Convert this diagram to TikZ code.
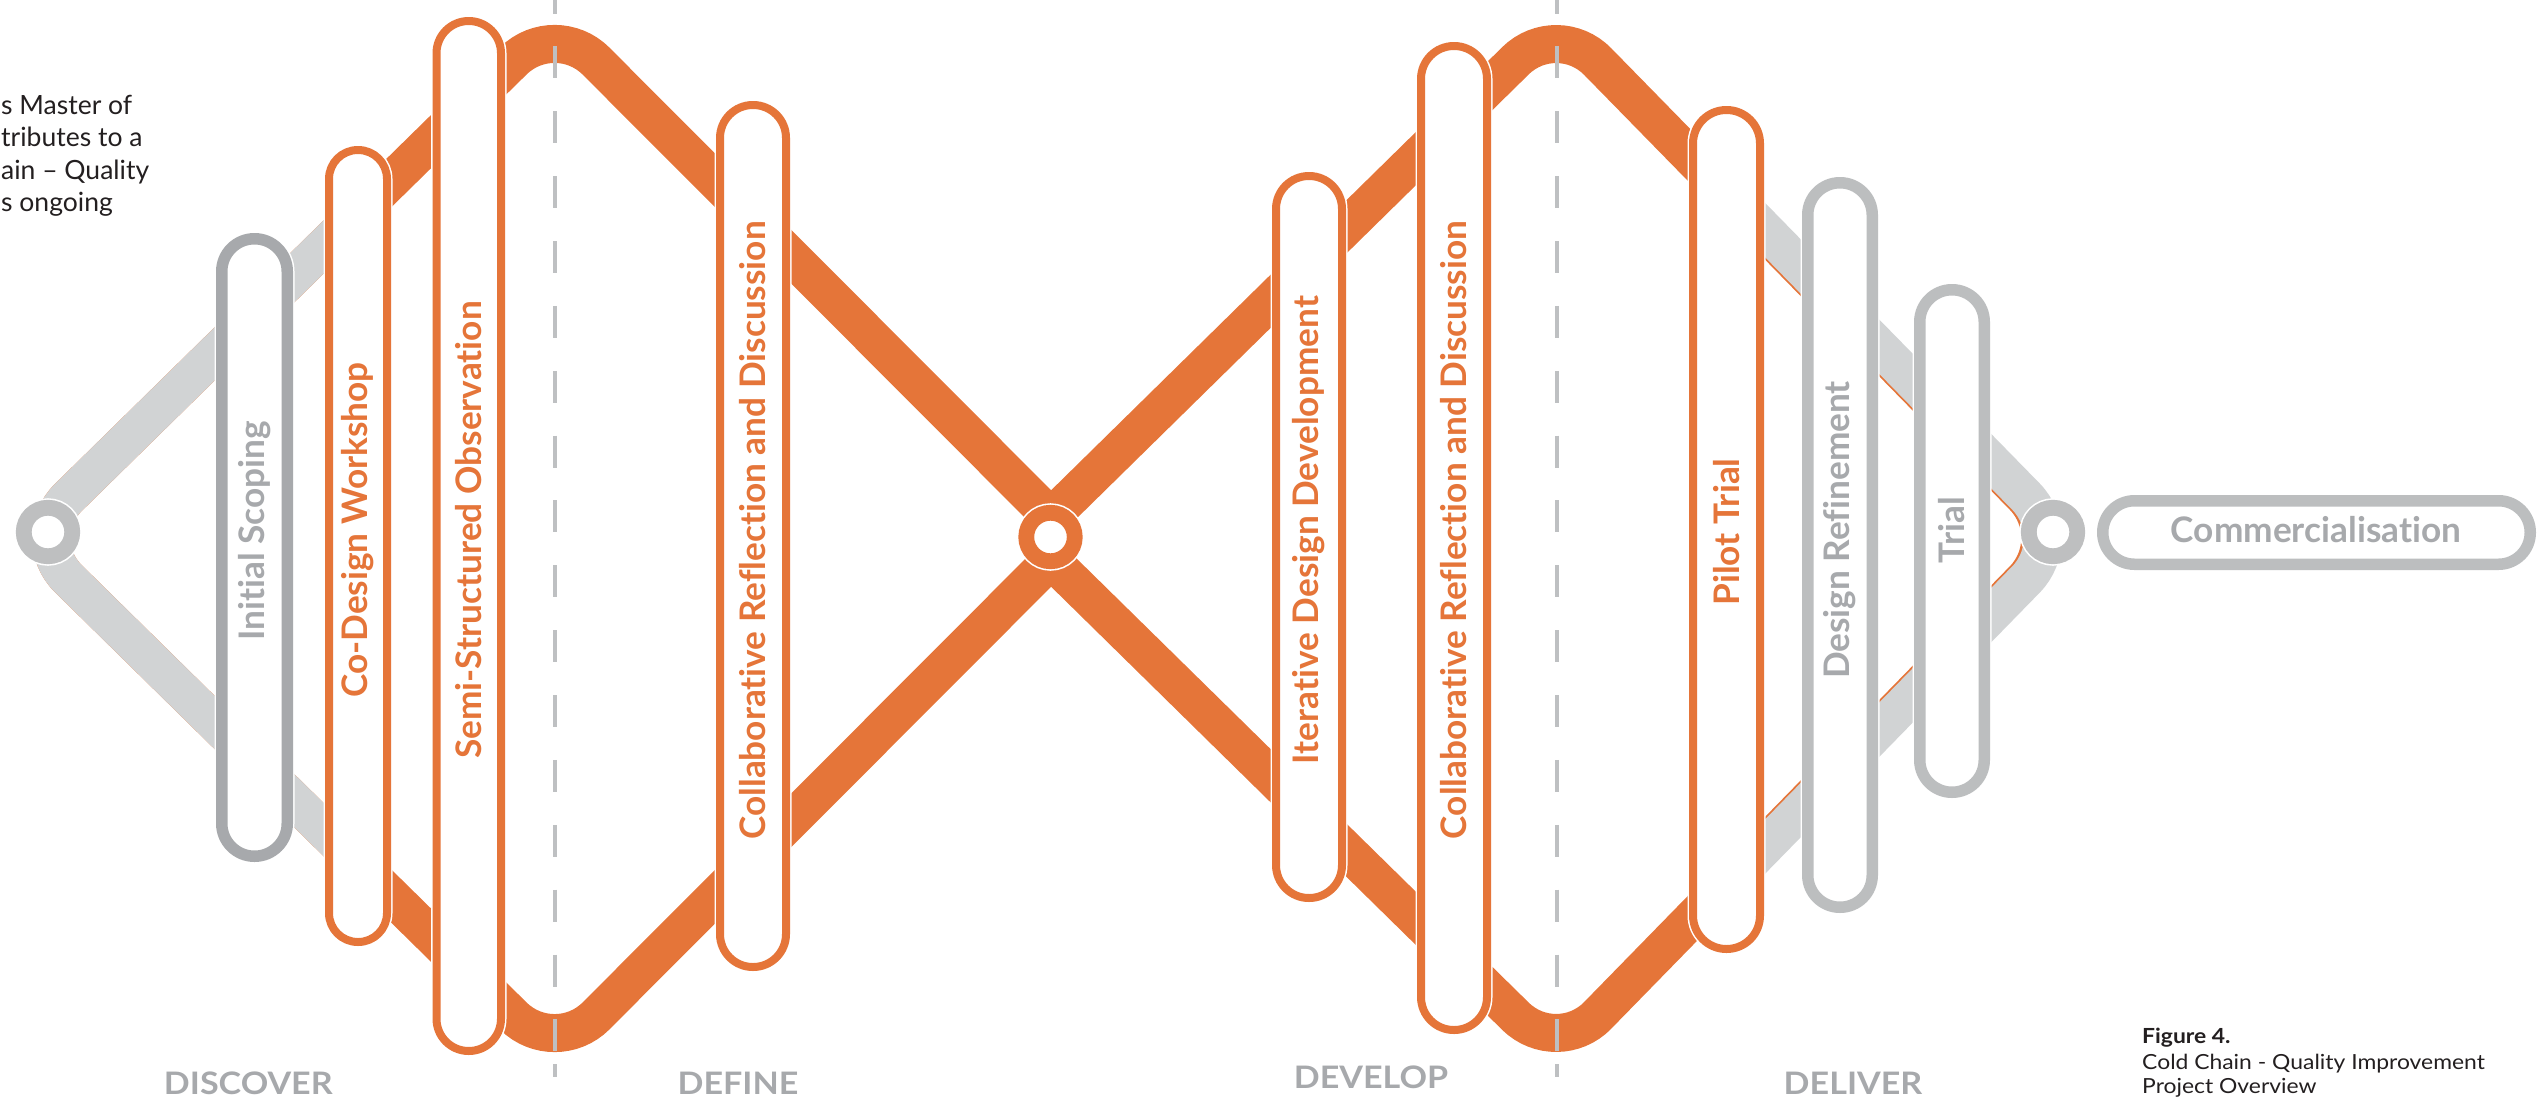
\documentclass[tikz,border=0pt]{standalone}
\usepackage{fontspec}
\setmainfont{Lato}[Ligatures=NoCommon]
\newfontfamily\widefont[FakeStretch=1.1,Ligatures=NoCommon]{Lato}
\newfontfamily\introfont[Ligatures=NoCommon]{Lato}
\definecolor{orng}{RGB}{229,117,57}
\definecolor{bandg}{RGB}{209,211,212}
\definecolor{pgd}{RGB}{167,169,172}
\definecolor{pgl}{RGB}{188,190,191}
\definecolor{ringg}{RGB}{190,191,192}
\definecolor{txg}{RGB}{167,169,172}
\definecolor{dashc}{RGB}{190,192,194}
\definecolor{introblk}{RGB}{35,31,32}
\tikzset{
  bandpath/.style={line width=38pt, rounded corners=58pt, line cap=butt},
  obox/.style={rectangle, inner sep=0pt, draw=orng, line width=8pt, fill=white, preaction={draw=white, line width=11pt}},
  gbox/.style={rectangle, inner sep=0pt, draw=pgl, line width=11.5pt, fill=white, preaction={draw=white, line width=14.5pt}},
  olab/.style={text=orng, font=\fontsize{35.2}{40}\selectfont\bfseries, inner sep=0pt},
  glab/.style={text=txg, font=\fontsize{35.2}{40}\selectfont\bfseries, inner sep=0pt},
  ringnode/.style={circle, inner sep=0pt, minimum size=48.5pt, line width=15.8pt, fill=white, preaction={draw=white, line width=19pt}},
  phase/.style={text=txg, font=\widefont\fontsize{31}{36}\selectfont\bfseries, anchor=base, inner sep=0pt},
  capt/.style={font=\widefont\fontsize{20.8}{25}\selectfont, anchor=base west, inner sep=0pt, text=introblk},
  intro/.style={font=\introfont\fontsize{26.5}{32}\selectfont, anchor=base west, inner sep=0pt, text=introblk},
  dashln/.style={draw=dashc, line width=3.5pt, dash pattern=on 32pt off 32.87pt, dash phase=18.47pt},
  endln/.style={draw=dashc, line width=3.5pt}
}
\begin{document}
\begin{tikzpicture}[x=1pt,y=-1pt]
\path[use as bounding box] (0,0) rectangle (2544,1101);
\clip (0,0) rectangle (2544,1101);

% path vertices
\coordinate (L) at (27,538);
\coordinate (T1) at (555,20);
\coordinate (B1) at (555,1057);
\coordinate (V) at (1051,517);
\coordinate (Lam) at (1051,560);
\coordinate (T2) at (1557,20);
\coordinate (B2) at (1557,1057);
\coordinate (R) at (2064,538);

% orange bands
\draw[bandpath, orng] (V) -- (T1) -- (L) -- (B1) -- (Lam);
\draw[bandpath, orng] (V) -- (T2) -- (R) -- (B2) -- (Lam);

% grey parts
\begin{scope}
\clip (0,0) rectangle (358,1101);
\draw[bandpath, bandg] (V) -- (T1) -- (L) -- (B1) -- (Lam);
\end{scope}
\begin{scope}
\clip (1726.5,0) rectangle (2544,1101);
\draw[bandpath, bandg] ([xshift=2.5pt]V) -- ([xshift=2.5pt]T2) -- ([xshift=2.5pt]R) -- ([xshift=2.5pt]B2) -- ([xshift=2.5pt]Lam);
\end{scope}

% dashed phase dividers
\coordinate (d1a) at (555,0);
\coordinate (d1b) at (555,1052);
\coordinate (d1c) at (555,1064);
\coordinate (d1d) at (555,1077);
\coordinate (d2a) at (1557,0);
\coordinate (d2b) at (1557,1052);
\coordinate (d2c) at (1557,1064);
\coordinate (d2d) at (1557,1077);
\draw[dashln] (d1a) -- (d1b);
\draw[endln] (d1c) -- (d1d);
\draw[dashln] (d2a) -- (d2b);
\draw[endln] (d2c) -- (d2d);

% circles
\node[ringnode, draw=ringg] (cL) at (48,532) {};
\node[ringnode, draw=orng] (cC) at (1050.5,537) {};
\node[ringnode, draw=ringg] (cR) at (2053,532) {};

% pills
\node[gbox, draw=pgd, minimum width=65.5pt, minimum height=617.5pt, rounded corners=32.7pt] (p1) at (254.5,547.5) {};
\node[obox, minimum width=58pt, minimum height=792pt, rounded corners=28.9pt] (p2) at (358,546) {};
\node[obox, minimum width=64.5pt, minimum height=1030pt, rounded corners=32.2pt] (p3) at (468.75,536) {};
\node[obox, minimum width=66pt, minimum height=862pt, rounded corners=32.9pt] (p4) at (753,536) {};
\node[obox, minimum width=66pt, minimum height=722pt, rounded corners=32.9pt] (p5) at (1309,537) {};
\node[obox, minimum width=66pt, minimum height=984pt, rounded corners=32.9pt] (p6) at (1454,538) {};
\node[obox, minimum width=67pt, minimum height=839pt, rounded corners=33.4pt] (p7) at (1726.5,529.5) {};
\node[gbox, minimum width=64.5pt, minimum height=724.5pt, rounded corners=32.2pt] (p8) at (1840,545) {};
\node[gbox, minimum width=64.5pt, minimum height=502.5pt, rounded corners=32.2pt] (p9) at (1952,541) {};
\node[gbox, minimum width=427.5pt, minimum height=63.5pt, rounded corners=31.7pt] (p10) at (2316.5,532.5) {};

% pill labels
\node[glab, rotate=90] (t1) at (254.5,531) {Initial Scoping};
\node[olab, rotate=90] (t2) at (358,530) {Co-Design Workshop};
\node[olab, rotate=90] (t3) at (468.75,530) {Semi-Structured Observation};
\node[olab, rotate=90] (t4) at (753,530.5) {Collaborative Reflection and Discussion};
\node[olab, rotate=90] (t5) at (1309,530) {Iterative Design Development};
\node[olab, rotate=90] (t6) at (1454,530) {Collaborative Reflection and Discussion};
\node[olab, rotate=90] (t7) at (1726.5,532) {Pilot Trial};
\node[glab, rotate=90] (t8) at (1840,530) {Design Refinement};
\node[glab, rotate=90] (t9) at (1952,530) {Trial};
\node[glab] (t10) at (2316,530) {Commercialisation};

% phase labels
\node[phase] (ph1) at (248.3,1094.5) {DISCOVER};
\node[phase] (ph2) at (738,1094.5) {DEFINE};
\node[phase] (ph3) at (1371,1088.5) {DEVELOP};
\node[phase] (ph4) at (1853,1094.5) {DELIVER};

% caption
\node[capt] (cap1) at (2142,1043) {\bfseries Figure 4.};
\node[capt] (cap2) at (2142,1069) {Cold Chain - Quality Improvement};
\node[capt] (cap3) at (2142,1093) {Project Overview};

% intro text (fragments as printed at the left edge)
\node[intro] (in1) at (1,114) {s Master of};
\node[intro] (in2) at (1,146.5) {tributes to a};
\node[intro] (in3) at (1,179.5) {ain – Quality};
\node[intro] (in4) at (1,211.5) {s ongoing};
\end{tikzpicture}
\end{document}
